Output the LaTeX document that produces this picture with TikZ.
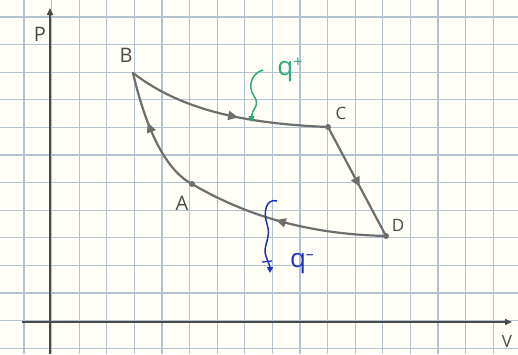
\documentclass[tikz,border=0pt]{standalone}
\usepackage{fontspec}
\setmainfont{Open Sans}
\usetikzlibrary{arrows.meta,decorations.markings}
\definecolor{gridc}{HTML}{B4C2D0}
\definecolor{penc}{HTML}{4A4A4A}
\definecolor{procc}{HTML}{6E6E6E}
\definecolor{qplus}{HTML}{2EAA78}
\definecolor{qminus}{HTML}{2030C0}
\tikzset{
  gridline/.style={gridc, line width=1.3pt},
  axisline/.style={penc, line width=1.6pt, -{Triangle[length=7pt,width=6pt]}},
  proc/.style={procc, line width=2.2pt, line cap=round},
  midarrow/.style={postaction={decorate, decoration={markings,
      mark=at position #1 with {\arrow{Triangle[length=10pt,width=9pt]}}}}},
  lab/.style={text=penc, font=\fontsize{20}{20}\selectfont},
  smalllab/.style={text=penc, font=\fontsize{17}{17}\selectfont},
  qlab/.style={font=\fontsize{26}{26}\selectfont},
  dotc/.style={circle, fill=procc, inner sep=0pt, minimum size=6pt},
  heatp/.style={qplus, line width=1.5pt, -{Triangle[length=6pt,width=6pt]}},
  heatm/.style={qminus, line width=1.5pt, -{Triangle[length=6pt,width=6pt]}}
}
\begin{document}
\begin{tikzpicture}[x=1pt,y=-1pt]
\useasboundingbox (0,0) rectangle (518,354);
\fill[white!97!yellow] (0,0) rectangle (518,354);
% grid
\foreach \i in {0,...,18} {\draw[gridline] (24+27.6*\i,0) -- (24+27.6*\i,354);}
\foreach \j in {0,...,12} {\draw[gridline] (0,17+27.6*\j) -- (518,17+27.6*\j);}
% axes
\coordinate (y0) at (50,354);
\coordinate (y1) at (50,8);
\coordinate (x0) at (22,322);
\coordinate (x1) at (512,322);
\draw[axisline] (y0) -- (y1);
\draw[axisline] (x0) -- (x1);
\node[lab] (P) at (40,34) {P};
\node[smalllab] (V) at (507,341) {V};
% states
\coordinate (B) at (133,73);
\coordinate (C) at (328,127);
\coordinate (D) at (386,236);
\coordinate (A) at (192,184);
\node[dotc] at (C) {};
\node[dotc] at (D) {};
\node[dotc] at (A) {};
\node[lab] (Bl) at (126,55) {B};
\node[smalllab] (Cl) at (341,113) {C};
\node[smalllab] (Dl) at (398,225) {D};
\node[lab] (Al) at (182,203) {A};
% processes
\draw[proc, midarrow=0.56] (B) .. controls (175,105) and (230,123) .. (C);
\draw[proc, midarrow=0.55] (C) -- (D);
\draw[proc, midarrow=0.55] (D) .. controls (300,234) and (240,212) .. (A);
\draw[proc, midarrow=0.6] (A) .. controls (162,168) and (144,120) .. (B);
% heat
\coordinate (hp0) at (263,70);
\coordinate (hp1) at (252,122);
\draw[heatp] (hp0) .. controls (252,73) and (247,86) .. (254,96)
  .. controls (261,106) and (251,110) .. (hp1);
\node[text=qplus, qlab] (qp) at (290,70) {q\raisebox{8pt}{\fontsize{16}{16}\selectfont +}};
\coordinate (hm0) at (277,201);
\coordinate (hm1) at (270,273);
\draw[heatm] (hm0) .. controls (266,198) and (263,212) .. (267,224)
  .. controls (272,238) and (262,246) .. (266,256) .. controls (268,262) and (270,266) .. (hm1);
\draw[qminus, line width=1.3pt] (262,262) -- (272,261);
\node[text=qminus, qlab] (qm) at (302,264) {q\raisebox{8pt}{\fontsize{16}{16}\selectfont --}};
\end{tikzpicture}
\end{document}
